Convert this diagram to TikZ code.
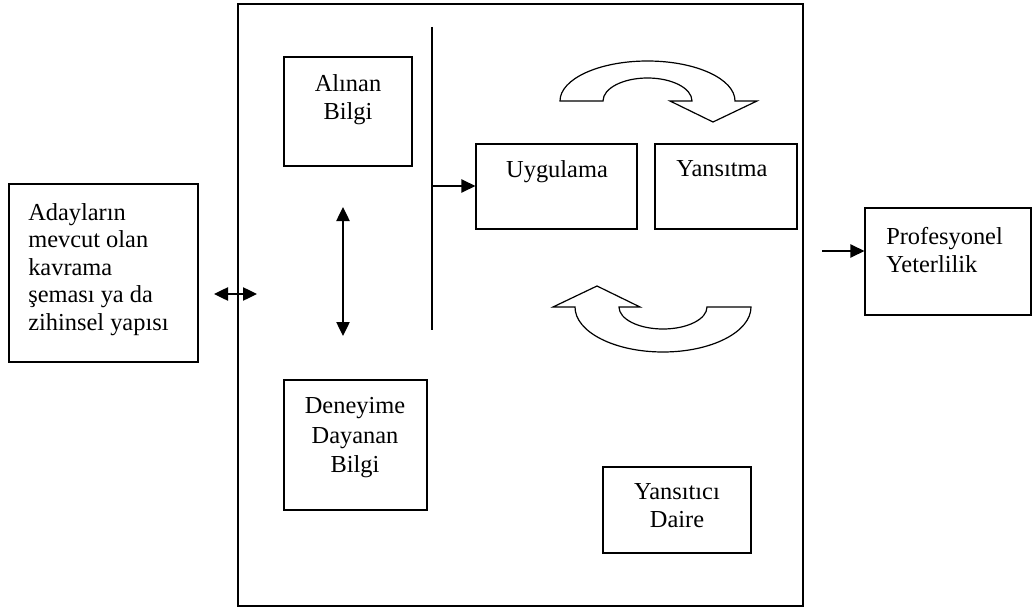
\documentclass[tikz,border=0pt]{standalone}
\usepackage{fontspec}
\setmainfont{Liberation Serif}
\usetikzlibrary{fit,arrows.meta}
\begin{document}
\begin{tikzpicture}[x=0.75pt,y=-0.75pt,
  box/.style={draw, line width=0.9pt, inner sep=0pt},
  lbl/.style={font=\fontsize{18.3}{21}\selectfont, inner sep=0pt, align=center},
  conn/.style={line width=1pt},
  onetip/.style={-{Triangle[length=10.5pt,width=10pt]}},
  twotip/.style={{Triangle[length=10.5pt,width=10pt]}-{Triangle[length=10.5pt,width=10pt]}},
  curv/.style={draw, line width=0.9pt, fill=white, line join=miter}]
\useasboundingbox (0,0) rectangle (1032,610);

% boxes
\node[box, fit={(9,184) (198,362)}] (adaylar) {};
\node[box, fit={(238,4) (803,606)}] (main) {};
\node[box, fit={(284,57) (412,166)}] (alinan) {};
\node[box, fit={(476,144) (637,229)}] (uygulama) {};
\node[box, fit={(655,144) (797,229)}] (yansitma) {};
\node[box, fit={(284,380) (427,510)}] (deneyime) {};
\node[box, fit={(603,467) (751,553)}] (yansitici) {};
\node[box, fit={(865,208) (1031,315)}] (profesyonel) {};

% texts
\node[lbl, font=\fontsize{18.3}{20.6}\selectfont, align=left, anchor=north west] (adaylar-t) at (28,203)
  {Adayların\\mevcut olan\\kavrama\\şeması ya da\\zihinsel yapısı};
\node[lbl, anchor=north] (alinan-t) at (348,74) {Alınan\\Bilgi};
\node[lbl, anchor=north] (uygulama-t) at (557,160) {Uygulama};
\node[lbl, anchor=north] (yansitma-t) at (722,160) {Yansıtma};
\node[lbl, font=\fontsize{18.3}{22.3}\selectfont, anchor=north] (deneyime-t) at (355,397) {Deneyime\\Dayanan\\Bilgi};
\node[lbl, anchor=north] (yansitici-t) at (677,483) {Yansıtıcı\\Daire};
\node[lbl, align=left, anchor=north west] (profesyonel-t) at (886,227) {Profesyonel\\Yeterlilik};

% vertical divider line
\coordinate (vtop) at (432,27);
\coordinate (vbot) at (432,330);
\draw[conn] (vtop) -- (vbot);

% connectors
\coordinate (la) at (214,294);
\coordinate (lb) at (257,294);
\draw[conn, twotip] (la) -- (lb);

\coordinate (va) at (343,207);
\coordinate (vb) at (343,336);
\draw[conn, twotip] (va) -- (vb);

\coordinate (ustart) at (432,186);
\draw[conn, onetip] (ustart) -- (uygulama.west |- ustart);

\coordinate (pstart) at (822,251);
\draw[conn, onetip] (pstart) -- (profesyonel.west |- pstart);

% top curved arrow
\coordinate (ta) at (560,101);
\draw[curv] (ta) arc[start angle=180, end angle=0, x radius=65.625pt, y radius=30pt]
  -- (757,101) -- (713,122) -- (670,101) -- (692,101)
  arc[start angle=0, end angle=180, x radius=33.375pt, y radius=17.25pt] -- cycle;

% bottom curved arrow
\coordinate (ba) at (553,307);
\draw[curv] (ba) -- (575,307)
  arc[start angle=180, end angle=360, x radius=66pt, y radius=33.75pt]
  -- (707,307)
  arc[start angle=0, end angle=-180, x radius=33pt, y radius=16.5pt]
  -- (640,307) -- (597,286) -- cycle;
\end{tikzpicture}
\end{document}
